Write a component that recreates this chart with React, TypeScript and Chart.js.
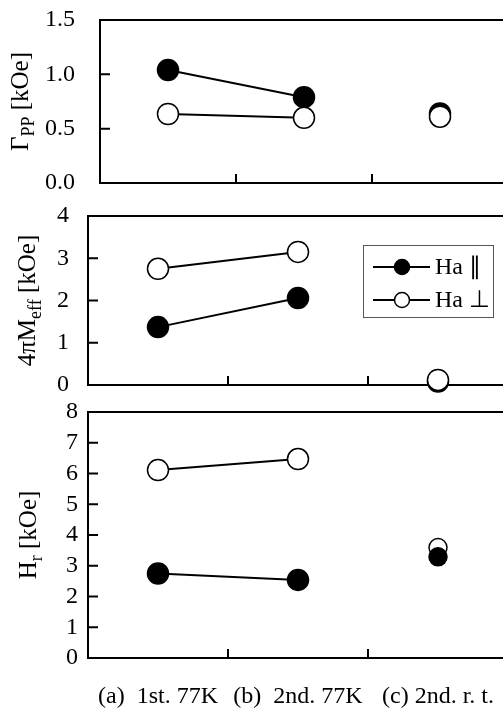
import React, { useEffect, useRef } from 'react';
import { Chart, registerables } from 'chart.js';

Chart.register(...registerables);

const categories = ['(a)  1st. 77K', '(b)  2nd. 77K', '(c) 2nd. r. t.'];
const seriesNames = ['Ha \u2225', 'Ha \u22A5'];

const gammaPar = [1.04, 0.79, 0.64];
const gammaPerp = [0.635, 0.6, 0.61];
const meffPar = [1.37, 2.06, 0.08];
const meffPerp = [2.75, 3.15, 0.12];
const hrPar = [2.75, 2.54, 3.29];
const hrPerp = [6.11, 6.47, 3.59];

const gammaTicks = [0, 0.5, 1.0, 1.5];
const meffTicks = [0, 1, 2, 3, 4];
const hrTicks = [0, 1, 2, 3, 4, 5, 6, 7, 8];

const SERIF = '"Liberation Serif", "Times New Roman", Times, serif';
const FONT_SIZE = 24;

type Part = { t: string; sub?: boolean };

interface Panel {
  top: number;
  height: number;
  padTop: number;
  padBottom: number;
  padRight: number;
  yWidth: number;
  yPad: number;
  titleDx: number;
  title: Part[];
  ticks: number[];
  decimals: number;
  par: number[];
  perp: number[];
  filledOnTop: boolean;
  showX: boolean;
  xHeight: number;
  legend: boolean;
  lastRadius: number;
}

const panels: Panel[] = [
  {
    top: -20, height: 243, padTop: 40, padBottom: 40, padRight: 8, yWidth: 100, yPad: 25, titleDx: -80,
    title: [{ t: '\u0393' }, { t: 'PP', sub: true }, { t: ' [kOe]' }],
    ticks: gammaTicks, decimals: 1, par: gammaPar, perp: gammaPerp, filledOnTop: false,
    showX: false, xHeight: 0, legend: false, lastRadius: 10.5,
  },
  {
    top: 180, height: 240, padTop: 36, padBottom: 35, padRight: 12, yWidth: 88, yPad: 19, titleDx: -61,
    title: [{ t: '4\u03C0M' }, { t: 'eff', sub: true }, { t: ' [kOe]' }],
    ticks: meffTicks, decimals: 0, par: meffPar, perp: meffPerp, filledOnTop: false,
    showX: false, xHeight: 0, legend: true, lastRadius: 10.5,
  },
  {
    top: 380, height: 329, padTop: 32, padBottom: 0, padRight: 12, yWidth: 88, yPad: 10, titleDx: -60,
    title: [{ t: 'H' }, { t: 'r', sub: true }, { t: ' [kOe]' }],
    ticks: hrTicks, decimals: 0, par: hrPar, perp: hrPerp, filledOnTop: true,
    showX: true, xHeight: 51, legend: false, lastRadius: 9,
  },
];

function drawVertical(ctx: CanvasRenderingContext2D, parts: Part[], cx: number, cy: number) {
  const size = 25;
  const subSize = 18;
  ctx.save();
  ctx.translate(cx, cy);
  ctx.rotate(-Math.PI / 2);
  ctx.fillStyle = '#000';
  ctx.textBaseline = 'alphabetic';
  ctx.textAlign = 'left';
  const widths = parts.map((p) => {
    ctx.font = `${p.sub ? subSize : size}px ${SERIF}`;
    return ctx.measureText(p.t).width;
  });
  const total = widths.reduce((a, b) => a + b, 0);
  let x = -total / 2;
  const base = size * 0.33;
  parts.forEach((p, i) => {
    ctx.font = `${p.sub ? subSize : size}px ${SERIF}`;
    ctx.fillText(p.t, x, p.sub ? base + size * 0.22 : base);
    x += widths[i];
  });
  ctx.restore();
}

function makeDataset(label: string, data: number[], filled: boolean, lastRadius: number) {
  const radii = data.map((_, i) => (i === data.length - 1 ? lastRadius : 10.5));
  return {
    label,
    data,
    borderColor: '#000',
    borderWidth: 2,
    backgroundColor: filled ? '#000' : '#fff',
    pointBackgroundColor: filled ? '#000' : '#fff',
    pointBorderColor: '#000',
    pointBorderWidth: 1.5,
    pointRadius: radii,
    pointHoverRadius: radii,
    fill: false,
    tension: 0,
    clip: false as const,
    segment: {
      borderColor: (ctx: any) => (ctx.p1DataIndex === categories.length - 1 ? 'rgba(0,0,0,0)' : '#000'),
    },
  };
}

function buildConfig(p: Panel): any {
  const filledDs = makeDataset(seriesNames[0], p.par, true, p.lastRadius);
  const openDs = makeDataset(seriesNames[1], p.perp, false, p.lastRadius);
  const datasets = p.filledOnTop ? [filledDs, openDs] : [openDs, filledDs];

  const framePlugin = {
    id: 'frame',
    beforeDatasetsDraw(chart: any) {
      const { ctx, chartArea } = chart;
      const { left, right, top, bottom } = chartArea;
      const ys = chart.scales.y;
      const xs = chart.scales.x;
      ctx.save();
      ctx.strokeStyle = '#000';
      ctx.lineWidth = 2;
      ctx.strokeRect(left, top, right - left, bottom - top);
      ctx.beginPath();
      p.ticks.slice(1, -1).forEach((v) => {
        const y = ys.getPixelForValue(v);
        ctx.moveTo(left, y);
        ctx.lineTo(left + 10, y);
      });
      for (let i = 1; i < categories.length; i++) {
        const x = (xs.getPixelForTick(i - 1) + xs.getPixelForTick(i)) / 2;
        ctx.moveTo(x, bottom);
        ctx.lineTo(x, bottom - 9);
      }
      ctx.stroke();
      ctx.restore();
    },
    afterDraw(chart: any) {
      const { ctx, chartArea } = chart;
      drawVertical(ctx, p.title, chartArea.left + p.titleDx, (chartArea.top + chartArea.bottom) / 2);
      if (p.legend) {
        const bl = chartArea.right - 145;
        const bt = chartArea.top + 29;
        ctx.save();
        ctx.strokeStyle = '#555';
        ctx.lineWidth = 1;
        ctx.strokeRect(bl + 0.5, bt + 0.5, 130, 72);
        seriesNames.forEach((name, i) => {
          const y = bt + 22 + i * 33;
          ctx.strokeStyle = '#000';
          ctx.lineWidth = 2;
          ctx.beginPath();
          ctx.moveTo(bl + 10, y);
          ctx.lineTo(bl + 67, y);
          ctx.stroke();
          ctx.beginPath();
          ctx.arc(bl + 39, y, 7.5, 0, Math.PI * 2);
          ctx.fillStyle = i === 0 ? '#000' : '#fff';
          ctx.fill();
          ctx.lineWidth = 1.5;
          ctx.stroke();
          ctx.fillStyle = '#000';
          ctx.font = `${FONT_SIZE}px ${SERIF}`;
          ctx.textBaseline = 'middle';
          ctx.textAlign = 'left';
          ctx.fillText(name, bl + 72, y + 1);
        });
        ctx.restore();
      }
    },
  };

  return {
    type: 'line',
    data: { labels: categories, datasets },
    options: {
      responsive: false,
      animation: false,
      events: [],
      layout: { padding: { top: p.padTop, bottom: p.padBottom, left: 0, right: p.padRight } },
      plugins: { legend: { display: false }, tooltip: { enabled: false } },
      scales: {
        x: {
          type: 'category',
          offset: true,
          display: p.showX,
          grid: { display: false, drawTicks: false, offset: true },
          border: { display: false },
          ticks: {
            font: { family: SERIF, size: FONT_SIZE },
            color: '#000',
            padding: 24,
            maxRotation: 0,
            minRotation: 0,
            autoSkip: false,
          },
          afterFit: (s: any) => {
            s.height = p.xHeight;
          },
        },
        y: {
          type: 'linear',
          min: p.ticks[0],
          max: p.ticks[p.ticks.length - 1],
          grid: { display: false, drawTicks: false },
          border: { display: false },
          ticks: {
            font: { family: SERIF, size: FONT_SIZE },
            color: '#000',
            padding: p.yPad,
            autoSkip: false,
            callback: (v: any) => Number(v).toFixed(p.decimals),
          },
          afterBuildTicks: (s: any) => {
            s.ticks = p.ticks.map((v) => ({ value: v }));
          },
          afterFit: (s: any) => {
            s.width = p.yWidth;
          },
        },
      },
    },
    plugins: [framePlugin],
  };
}

export default function App() {
  const r0 = useRef<HTMLCanvasElement>(null);
  const r1 = useRef<HTMLCanvasElement>(null);
  const r2 = useRef<HTMLCanvasElement>(null);
  const refs = [r0, r1, r2];

  useEffect(() => {
    const charts = panels.map((p, i) => new Chart(refs[i].current as HTMLCanvasElement, buildConfig(p)));
    return () => charts.forEach((c) => c.destroy());
  }, []);

  return (
    <div
      style={{
        position: 'absolute',
        left: 0,
        top: 0,
        width: 503,
        height: 709,
        overflow: 'hidden',
        background: '#fff',
      }}
    >
      {panels.map((p, i) => (
        <canvas
          key={i}
          ref={refs[i]}
          width={520}
          height={p.height}
          style={{ position: 'absolute', left: 0, top: p.top, width: 520, height: p.height, display: 'block' }}
        />
      ))}
    </div>
  );
}
